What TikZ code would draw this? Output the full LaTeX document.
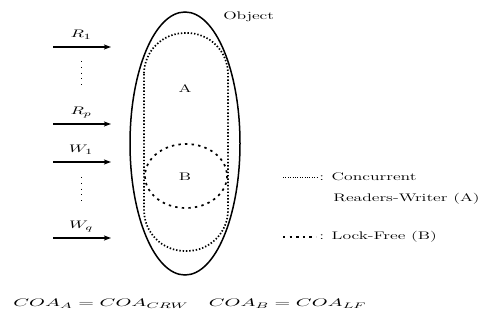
\documentclass[tikz,border=0pt]{standalone}
\usetikzlibrary{arrows.meta}
\begin{document}
\begin{tikzpicture}[x=1pt,y=-1pt,
  lbl/.style={inner sep=0pt, font=\fontsize{11}{13}\selectfont, xscale=1.6, transform shape},
  arr/.style={line width=1.2pt, -{Stealth[length=7pt,width=5pt,inset=1.5pt]}},
  vdots/.style={line width=0.8pt, dash pattern=on 0.8pt off 5pt},
  dotA/.style={line width=1.7pt, dash pattern=on 1.4pt off 1.9pt},
  dashB/.style={line width=1.7pt, dash pattern=on 2.4pt off 4.2pt}]
\useasboundingbox (0,0) rectangle (487,320);
% object
\draw[line width=1.5pt] (185,143.5) ellipse [x radius=55, y radius=131.5];
\draw[dotA, rounded corners=41pt] (144,33) rectangle (228,251);
\draw[dashB] (186,176) ellipse [x radius=41, y radius=32];
\node[lbl, anchor=west] (obj) at (223,17) {Object};
\node[lbl] (A) at (185,89) {A};
\node[lbl] (B) at (185,177) {B};
% arrows
\foreach \n/\y/\t in {r1/47/R_1, rp/124/R_p, w1/162/W_1, wq/238/W_q}{
  \coordinate (\n s) at (53,\y);
  \coordinate (\n e) at (111,\y);
  \draw[arr] (\n s) -- (\n e);
  \node[lbl, anchor=base] (\n l) at (81,\y-9) {$\t$};
}
\coordinate (d1a) at (81,61); \coordinate (d1b) at (81,88);
\coordinate (d2a) at (81,177); \coordinate (d2b) at (81,203);
\draw[vdots] (d1a) -- (d1b);
\draw[vdots] (d2a) -- (d2b);
% legend
\coordinate (la) at (283,177); \coordinate (lb) at (317,177);
\draw[line width=0.9pt, dash pattern=on 0.9pt off 1.5pt] (la) -- (lb);
\node[lbl, anchor=west] (c1) at (319,177) {: Concurrent};
\node[lbl, anchor=west] (c2) at (333,199) {Readers-Writer (A)};
\coordinate (lc) at (283,237); \coordinate (ld) at (316,237);
\draw[line width=1.4pt, dash pattern=on 2.4pt off 4.2pt] (lc) -- (ld);
\node[lbl, anchor=west] (lf) at (319,237) {: Lock-Free (B)};
% formula
\node[lbl, anchor=west, xscale=1.15] (f) at (13,304) {$COA_A = COA_{CRW}\quad COA_B = COA_{LF}$};
\end{tikzpicture}
\end{document}
